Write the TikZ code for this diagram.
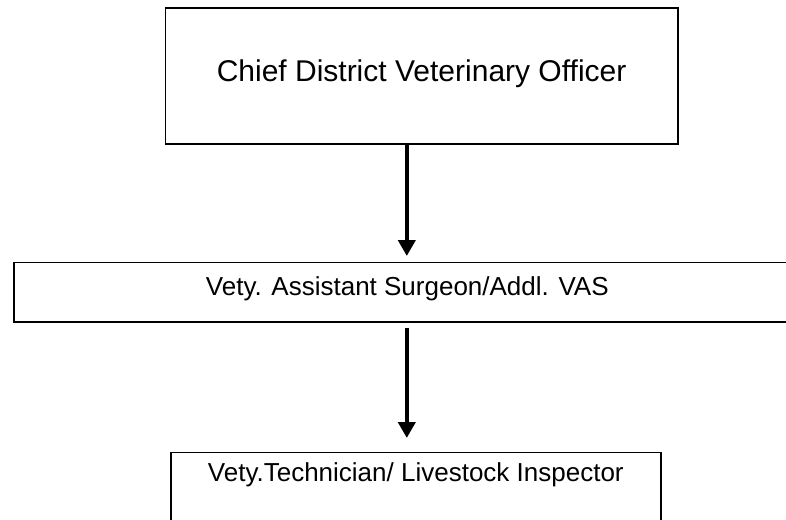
\documentclass[tikz,border=0pt]{standalone}
\usepackage{fontspec}
\setmainfont{Liberation Sans}
\usetikzlibrary{arrows.meta}
\begin{document}
\begin{tikzpicture}[x=1pt,y=-1pt,
  box/.style={draw=black, line width=1.6pt, fill=white, inner sep=0pt, anchor=north west, align=center},
  arr/.style={line width=4pt, -{Triangle[width=17pt,length=16pt]}}]
\useasboundingbox (0,0) rectangle (786,519);
\clip (0,0) rectangle (786,519);
\node[box, minimum width=512.5pt, text height=73.5pt, text depth=62pt,
      font=\fontsize{30}{36}\selectfont] (top) at (164.5,7.5) {Chief District Veterinary Officer};
\node[box, minimum width=787pt, text height=33.5pt, text depth=26pt,
      font=\fontsize{26}{31}\selectfont] (mid) at (13,261.5) {Vety. Assistant Surgeon/Addl. VAS};
\node[box, minimum width=490pt, text height=29.5pt, text depth=70pt,
      font=\fontsize{26}{31}\selectfont] (bot) at (170,451.5) {Vety.Technician/ Livestock Inspector};
\draw[arr] ([xshift=-14.75pt]top.south) -- ([xshift=-0.5pt,yshift=5.5pt]mid.north);
\draw[arr] ([xshift=-0.5pt,yshift=-5pt]mid.south) -- ([xshift=-9pt,yshift=13.5pt]bot.north);
\end{tikzpicture}
\end{document}
